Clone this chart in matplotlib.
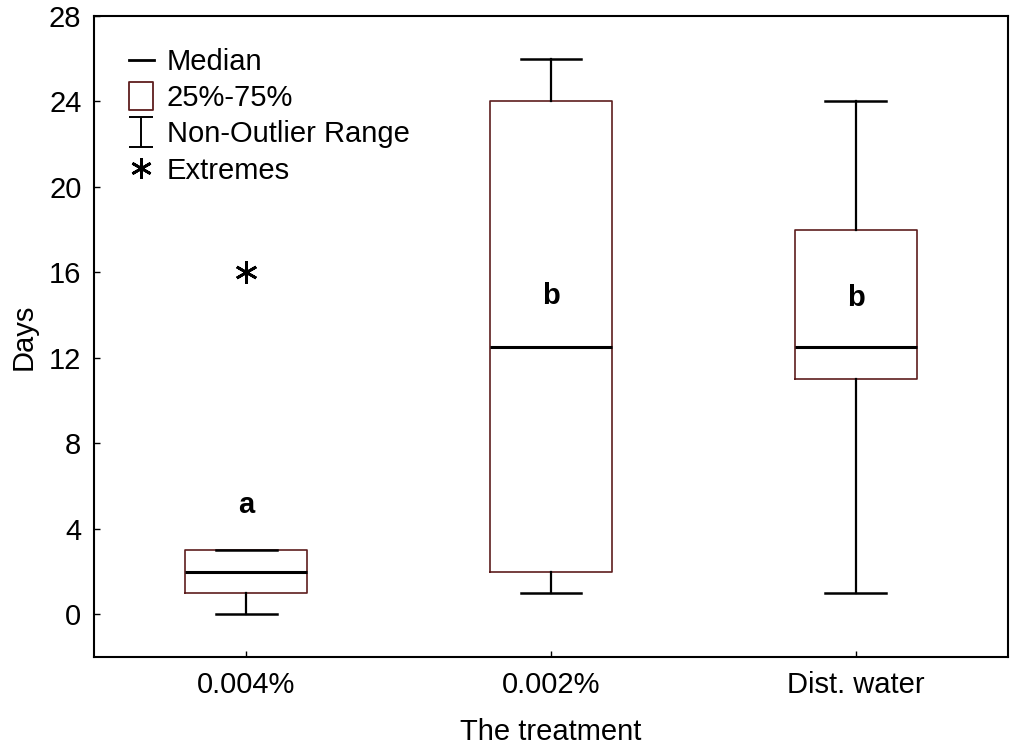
import matplotlib
matplotlib.use("Agg")
import matplotlib.pyplot as plt
from matplotlib.lines import Line2D
from matplotlib.path import Path

plt.rcParams['font.family'] = ['Liberation Sans', 'DejaVu Sans']

# data
groups = ["0.004%", "0.002%", "Dist. water"]
medians = [2, 12.5, 12.5]
q1 = [1, 2, 11]
q3 = [3, 24, 18]
whis_lo = [0, 1, 1]
whis_hi = [3, 26, 24]
extremes = [[16], [], []]
letters = ["a", "b", "b"]
letter_y = [5.1, 14.9, 14.8]

box_col = "#5e1e1e"
fs = 21

stats = []
for i, g in enumerate(groups):
    stats.append(dict(label=g, med=medians[i], q1=q1[i], q3=q3[i],
                      whislo=whis_lo[i], whishi=whis_hi[i], fliers=extremes[i]))

fig = plt.figure(figsize=(10.11, 7.54), dpi=100)
ax = fig.add_axes([94 / 1011, 97 / 754, 914 / 1011, 641 / 754])

asterisk = (6, 2, 0)
ax.bxp(stats, positions=[1, 2, 3], widths=0.4, capwidths=0.2,
       boxprops=dict(color=box_col, linewidth=1.2),
       medianprops=dict(color="black", linewidth=2.2),
       whiskerprops=dict(color="black", linewidth=1.6),
       capprops=dict(color="black", linewidth=1.8),
       flierprops=dict(marker=asterisk, markersize=16, markeredgewidth=2,
                       markeredgecolor="black", markerfacecolor="black",
                       linestyle="none"))

for i, t in enumerate(letters):
    ax.text(i + 1, letter_y[i], t, ha="center", va="center",
            fontsize=fs, fontweight="bold")

ax.set_xlim(0.5, 3.5)
ax.set_ylim(-2, 28)
ax.set_yticks(range(0, 29, 4))
ax.set_xticks([1, 2, 3])
ax.set_xticklabels(groups)
ax.tick_params(direction="in", length=4, width=1, labelsize=fs)
ax.tick_params(axis="y", pad=9)
ax.tick_params(axis="x", pad=10)
for s in ax.spines.values():
    s.set_linewidth(1.5)
ax.set_xlabel("The treatment", fontsize=fs, labelpad=14)
ax.set_ylabel("Days", fontsize=fs, labelpad=8)

# legend handles
i_path = Path([(-0.83, -1), (0.83, -1), (0, -1), (0, 1), (-0.83, 1), (0.83, 1)],
              [Path.MOVETO, Path.LINETO, Path.MOVETO, Path.LINETO, Path.MOVETO, Path.LINETO])
rect_path = Path([(-0.42, -0.5), (0.42, -0.5), (0.42, 0.5), (-0.42, 0.5), (-0.42, -0.5)],
                 [Path.MOVETO, Path.LINETO, Path.LINETO, Path.LINETO, Path.CLOSEPOLY])
handles = [
    Line2D([], [], color="black", linewidth=2),
    Line2D([], [], marker=rect_path, markersize=20, markerfacecolor="white",
           markeredgecolor=box_col, markeredgewidth=1.3, linestyle="none"),
    Line2D([], [], marker=i_path, markersize=21, markeredgecolor="black",
           markeredgewidth=1.4, linestyle="none"),
    Line2D([], [], marker=asterisk, markersize=15, markeredgecolor="black",
           markeredgewidth=2, linestyle="none"),
]
labels = ["Median", "25%-75%", "Non-Outlier Range", "Extremes"]
ax.legend(handles, labels, loc="upper left", bbox_to_anchor=(0.038, 0.95),
          frameon=False, fontsize=fs, handlelength=0.85, handletextpad=0.45,
          labelspacing=0.28, borderaxespad=0, borderpad=0)

fig.savefig("out.png", dpi=100)
